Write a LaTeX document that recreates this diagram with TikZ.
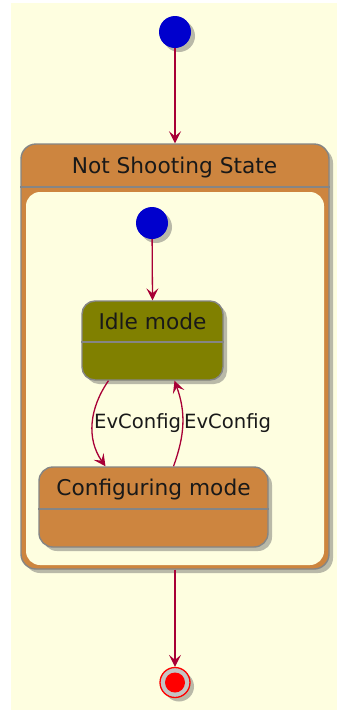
\documentclass[tikz,border=0pt]{standalone}
\usepackage{fontspec}
\setmainfont{DejaVu Sans}
\usetikzlibrary{arrows.meta,shadows}
\definecolor{cream}{HTML}{FEFEE0}
\definecolor{peru}{HTML}{CD853F}
\definecolor{olivefill}{HTML}{808000}
\definecolor{startblue}{HTML}{0000CD}
\definecolor{arrowred}{HTML}{A80036}
\definecolor{bordergray}{HTML}{858585}
\definecolor{ringgray}{HTML}{C4C4C4}
\newcommand{\statefont}{\fontsize{21.7}{26}\selectfont}
\newcommand{\labelfont}{\fontsize{19.6}{24}\selectfont}
\tikzset{
  shade/.style={drop shadow={shadow xshift=4pt, shadow yshift=-4pt, opacity=0.45, fill=black!60}},
  statebox/.style={draw=bordergray, line width=1.4pt, shade, inner sep=0pt},
  sepline/.style={draw=bordergray, line width=1.4pt},
  startdot/.style={circle, fill=startblue, minimum size=32pt, inner sep=0pt, shade},
  trans/.style={draw=arrowred, line width=1.3pt, -{Stealth[length=12pt,width=12pt,inset=5pt]}},
  txt/.style={font=\statefont, text=black!90, inner sep=0pt, anchor=base},
  lbl/.style={font=\labelfont, text=black!90, inner sep=1pt},
}
\begin{document}
\begin{tikzpicture}[x=1pt,y=-1pt]
\useasboundingbox (0,0) rectangle (337,710);
\fill[cream] (11,3) rectangle (337,710);

% start
\node[startdot] (s1) at (175,32) {};

% composite state
\node[statebox, fill=peru, rounded corners=15pt, minimum width=308pt, minimum height=425pt] (comp) at (175,356.5) {};
\node[fill=cream, rounded corners=14pt, minimum width=298pt, minimum height=373pt, inner sep=0pt] (compin) at (175,378.5) {};
\node[txt] (comptitle) at (174.5,173) {Not Shooting State};
\draw[sepline] (comp.west |- 0,187) -- (comp.east |- 0,187);

% inner start
\node[startdot] (s2) at (152,223) {};

% Idle mode
\node[statebox, fill=olivefill, rounded corners=13pt, minimum width=141pt, minimum height=79pt] (idle) at (152.5,340.5) {};
\node[txt] (idlet) at (152.5,329.5) {Idle mode};
\draw[sepline] (idle.west |- 0,342) -- (idle.east |- 0,342);

% Configuring mode
\node[statebox, fill=peru, rounded corners=14pt, minimum width=229pt, minimum height=80pt] (config) at (153.5,507) {};
\node[txt] (configt) at (153.5,495) {Configuring mode};
\draw[sepline] (config.west |- 0,509) -- (config.east |- 0,509);

% final
\node[circle, draw=red, line width=1.3pt, fill=ringgray, minimum size=30pt, inner sep=0pt, shade] (fin) at (175,682.5) {};
\node[circle, fill=red, minimum size=20pt, inner sep=0pt] (finin) at (fin.center) {};

% transitions
\draw[trans] (s1) -- (comp.north);
\draw[trans] (s2) -- (idle.north);
\draw[trans] ([xshift=-44pt]idle.south) to[out=235,in=125]
  node[lbl, pos=0.5, anchor=west] (l1) {EvConfig} ([xshift=-48pt]config.north);
\draw[trans] ([xshift=20pt]config.north) to[out=70,in=-70]
  node[lbl, pos=0.5, anchor=west] (l2) {EvConfig} ([xshift=22pt]idle.south);
\draw[trans] (comp.south) -- (fin);
\end{tikzpicture}
\end{document}
